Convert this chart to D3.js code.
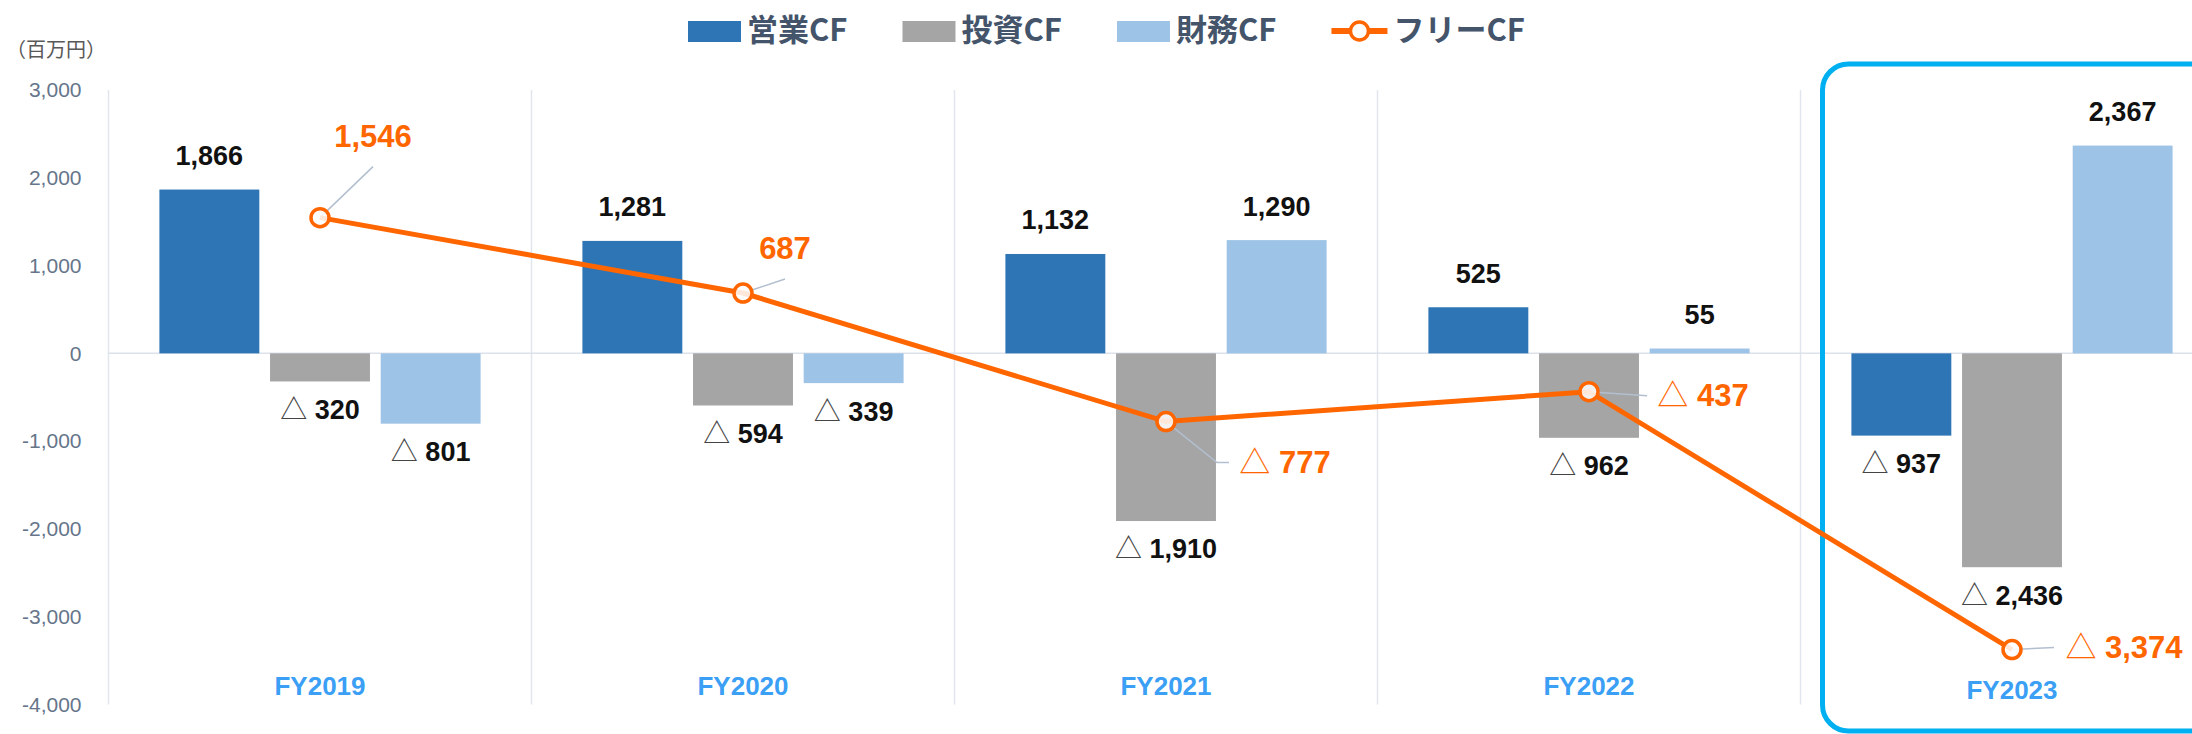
<!DOCTYPE html>
<html>
<head>
<meta charset="utf-8">
<script src="https://cdn.jsdelivr.net/npm/d3@7"></script>
<style>
  body { margin: 0; background: #fff; }
  svg { display: block; }
</style>
</head>
<body>
<svg id="chart" width="2192" height="734"></svg>
<script>
'use strict';

const years = ['FY2019', 'FY2020', 'FY2021', 'FY2022', 'FY2023'];
const seriesNames = ['営業CF', '投資CF', '財務CF'];
const lineName = 'フリーCF';
const operatingCF = [1866, 1281, 1132, 525, -937];
const investingCF = [-320, -594, -1910, -962, -2436];
const financingCF = [-801, -339, 1290, 55, 2367];
const freeCF = [1546, 687, -777, -437, -3374];
const yTicks = [3000, 2000, 1000, 0, -1000, -2000, -3000, -4000];
const unitLabel = '（百万円）';

const svg = d3.select('#chart');
const colors = ['#2e75b6', '#a5a5a5', '#9dc3e6'];
const orange = '#ff6600';
const latin = '"Liberation Sans", Arial, sans-serif';
const cjk = '"Noto Sans CJK JP", "Noto Sans", sans-serif';

const left = 108.5;
const bandW = 423;
const x = d3.scaleBand()
    .domain(years)
    .range([left, left + bandW * years.length]);
const xs = d3.scaleBand()
    .domain(d3.range(seriesNames.length))
    .range([0, x.bandwidth()])
    .paddingInner(0.097)
    .paddingOuter(0.46);
const y = d3.scaleLinear()
    .domain([-4000, 3000])
    .range([704.5, 90]);

const comma = d3.format(',');
function fmt(v) { return comma(v).replace('\u2212', '-'); }

// unit label
svg.append('text')
    .attr('x', 6).attr('y', 50).attr('dy', '0.35em')
    .style('font-family', cjk).style('font-size', '20px')
    .attr('fill', '#595959')
    .text(unitLabel);

// grid: category separators and zero line
const grid = svg.append('g');
grid.selectAll('line.sep')
    .data(years)
    .enter().append('line')
    .attr('class', 'sep')
    .attr('x1', d => x(d)).attr('x2', d => x(d))
    .attr('y1', y(3000)).attr('y2', y(-4000))
    .attr('stroke', '#e1e5ed').attr('stroke-width', 1.5);
grid.append('line')
    .attr('x1', left).attr('x2', 2192)
    .attr('y1', y(0)).attr('y2', y(0))
    .attr('stroke', '#dce1ea').attr('stroke-width', 1.5);

// y axis labels
const yAxis = svg.append('g')
    .attr('transform', 'translate(' + left + ',0)')
    .call(d3.axisLeft(y).tickValues(yTicks).tickSize(0).tickPadding(27).tickFormat(fmt));
yAxis.select('.domain').remove();
yAxis.selectAll('text')
    .style('font-family', latin).style('font-size', '21px')
    .attr('fill', '#66758a');

// bars
const seriesValues = [operatingCF, investingCF, financingCF];
const barData = [];
years.forEach(function(yr, i) {
    seriesValues.forEach(function(vals, s) {
        barData.push({ year: yr, s: s, v: vals[i] });
    });
});

svg.append('g').selectAll('rect')
    .data(barData)
    .enter().append('rect')
    .attr('x', d => x(d.year) + xs(d.s))
    .attr('width', xs.bandwidth())
    .attr('y', d => Math.min(y(d.v), y(0)))
    .attr('height', d => Math.abs(y(d.v) - y(0)))
    .attr('fill', d => colors[d.s]);

// bar value labels
const barLabels = svg.append('g').selectAll('text')
    .data(barData)
    .enter().append('text')
    .attr('x', d => x(d.year) + xs(d.s) + xs.bandwidth() / 2)
    .attr('y', d => d.v >= 0 ? y(d.v) - 34 : y(d.v) + 28)
    .attr('dy', '0.35em')
    .attr('text-anchor', 'middle')
    .style('font-family', latin).style('font-size', '27px').style('font-weight', 'bold')
    .attr('fill', '#111');
barLabels.filter(d => d.v < 0).append('tspan')
    .style('font-family', cjk).style('font-weight', 'normal').attr('fill', '#444')
    .text('△');
barLabels.append('tspan')
    .text(d => d.v < 0 ? ' ' + fmt(-d.v) : fmt(d.v));

// highlight box round the last year
const lastYear = years[years.length - 1];
svg.append('rect')
    .attr('x', x(lastYear) + 22)
    .attr('y', y(3000) - 26)
    .attr('width', x.bandwidth() + 40)
    .attr('height', 731 - (y(3000) - 26))
    .attr('rx', 26)
    .attr('fill', 'none')
    .attr('stroke', '#00b0f0')
    .attr('stroke-width', 5);

// category labels
svg.append('g').selectAll('text')
    .data(years)
    .enter().append('text')
    .attr('x', d => x(d) + x.bandwidth() / 2)
    .attr('y', (d, i) => i === years.length - 1 ? 690 : 686)
    .attr('dy', '0.35em')
    .attr('text-anchor', 'middle')
    .style('font-family', latin).style('font-size', '26px').style('font-weight', 'bold')
    .attr('fill', '#3a9ff5')
    .text(d => d);

// free cash flow line
const cx = i => x(years[i]) + x.bandwidth() / 2;
const line = d3.line()
    .x((d, i) => cx(i))
    .y(d => y(d));

// manual label placement: label centre and leader end, relative to the point
const fcfLabelNudge = [
    { dx: 53, dy: -81, leader: [[53, -51]] },
    { dx: 42, dy: -45, leader: [[42, -14]] },
    { dx: 119, dy: 41, leader: [[51, 41], [63, 41]] },
    { dx: 114, dy: 3, leader: [[58, 4]] },
    { dx: 112, dy: -2, leader: [[42, -2]] }
];

const leaders = svg.append('g');
freeCF.forEach(function(v, i) {
    const pts = [[cx(i), y(v)]].concat(fcfLabelNudge[i].leader.map(p => [cx(i) + p[0], y(v) + p[1]]));
    leaders.append('path')
        .attr('d', d3.line()(pts))
        .attr('fill', 'none')
        .attr('stroke', '#b3bfcf')
        .attr('stroke-width', 1.5);
});

svg.append('path')
    .datum(freeCF)
    .attr('d', line)
    .attr('fill', 'none')
    .attr('stroke', orange)
    .attr('stroke-width', 5);

svg.append('g').selectAll('circle')
    .data(freeCF)
    .enter().append('circle')
    .attr('cx', (d, i) => cx(i))
    .attr('cy', d => y(d))
    .attr('r', 9)
    .attr('fill', '#fff')
    .attr('fill-opacity', 0.85)
    .attr('stroke', orange)
    .attr('stroke-width', 3.5);

const fcfLabels = svg.append('g').selectAll('text')
    .data(freeCF)
    .enter().append('text')
    .attr('x', (d, i) => cx(i) + fcfLabelNudge[i].dx)
    .attr('y', (d, i) => y(d) + fcfLabelNudge[i].dy)
    .attr('dy', '0.35em')
    .attr('text-anchor', 'middle')
    .style('font-family', latin).style('font-size', '31px').style('font-weight', 'bold')
    .attr('fill', orange);
fcfLabels.filter(d => d < 0).append('tspan')
    .style('font-family', cjk).style('font-weight', 'normal')
    .text('△');
fcfLabels.append('tspan')
    .text(d => d < 0 ? ' ' + fmt(-d) : fmt(d));

// legend
const legend = svg.append('g').attr('transform', 'translate(0,30)');
let lx = 688;
seriesNames.forEach(function(name, i) {
    legend.append('rect')
        .attr('x', lx).attr('y', -9).attr('width', 53).attr('height', 21)
        .attr('fill', colors[i]);
    const t = legend.append('text')
        .attr('x', lx + 59).attr('y', 0).attr('dy', '0.35em')
        .style('font-family', cjk).style('font-size', '31px').style('font-weight', 'bold')
        .attr('fill', '#44546a')
        .text(name);
    lx += 59 + t.node().getComputedTextLength() + 55;
});
legend.append('line')
    .attr('x1', lx).attr('x2', lx + 56).attr('y1', 1).attr('y2', 1)
    .attr('stroke', orange).attr('stroke-width', 6);
legend.append('circle')
    .attr('cx', lx + 28).attr('cy', 1).attr('r', 9)
    .attr('fill', '#fff').attr('stroke', orange).attr('stroke-width', 3.5);
legend.append('text')
    .attr('x', lx + 62).attr('y', 0).attr('dy', '0.35em')
    .style('font-family', cjk).style('font-size', '31px').style('font-weight', 'bold')
    .attr('fill', '#44546a')
    .text(lineName);
</script>
</body>
</html>
